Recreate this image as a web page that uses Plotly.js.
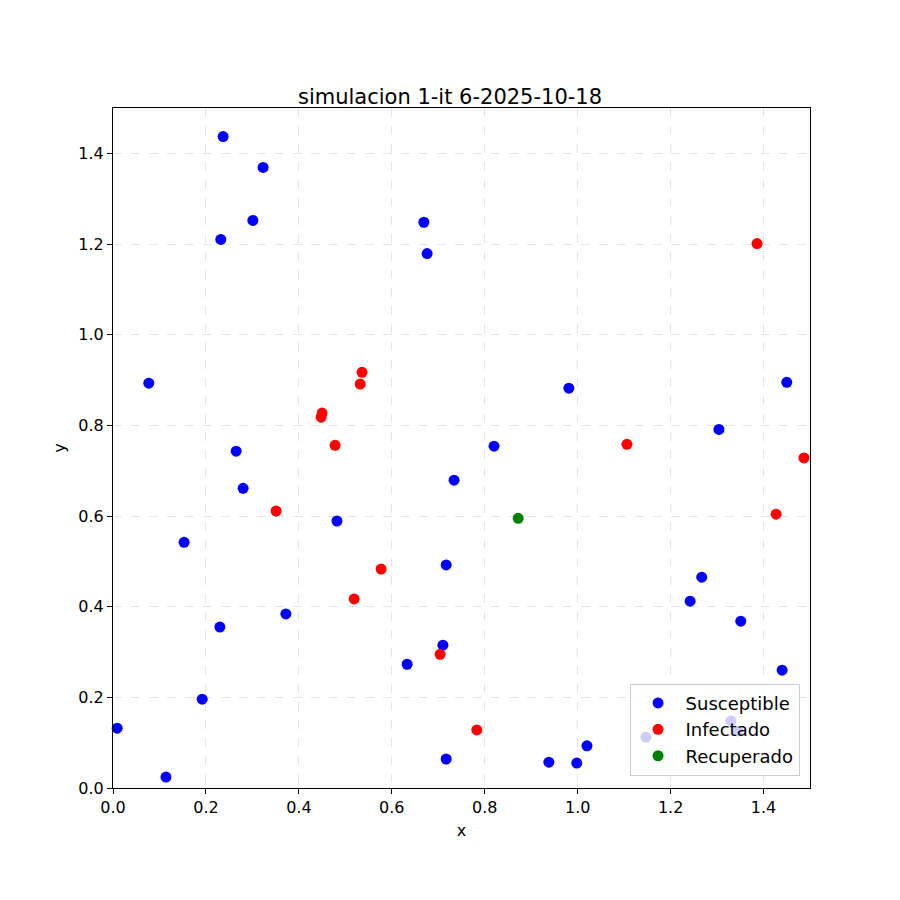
<!DOCTYPE html>
<html>
<head>
<meta charset="utf-8">
<script src="https://cdn.plot.ly/plotly-3.0.1.min.js"></script>
<style>body{margin:0;background:#fff}</style>
</head>
<body>
<div id="chart" style="width:900px;height:900px"></div>
<script>
// susceptible
var susX = [0.237, 0.323, 0.301, 0.232, 0.669, 0.676, 0.077, 0.981, 1.450, 0.265, 0.820, 1.304,
            0.280, 0.734, 0.482, 0.153, 0.717, 1.267, 1.242, 1.351, 0.372, 0.230, 0.710, 0.633,
            1.440, 0.192, 0.009, 0.114, 0.717, 0.938, 0.998, 1.020, 1.147, 1.330, 1.345];
var susY = [1.437, 1.369, 1.252, 1.210, 1.248, 1.179, 0.893, 0.882, 0.895, 0.743, 0.754, 0.791,
            0.661, 0.679, 0.589, 0.542, 0.492, 0.465, 0.412, 0.368, 0.384, 0.355, 0.315, 0.273,
            0.260, 0.196, 0.132, 0.024, 0.064, 0.057, 0.055, 0.093, 0.112, 0.148, 0.126];
// infected
var infX = [0.536, 0.532, 0.450, 0.448, 0.478, 0.351, 0.577, 0.519, 0.704, 0.783, 1.106, 1.386, 1.487, 1.427];
var infY = [0.917, 0.891, 0.827, 0.818, 0.756, 0.611, 0.483, 0.417, 0.295, 0.128, 0.758, 1.201, 0.728, 0.604];
// recovered
var recX = [0.872];
var recY = [0.595];

function trace(x, y, name, color) {
  return {x: x, y: y, name: name, type: 'scatter', mode: 'markers', cliponaxis: false,
          marker: {color: color, size: 11}};
}

var axis = {
  showgrid: true, gridcolor: 'rgba(0,0,0,0.1)', griddash: 'dash', zeroline: false,
  showline: true, mirror: true, linecolor: '#000', linewidth: 1,
  ticks: 'outside', ticklen: 5, tickcolor: '#000',
  tickfont: {size: 16, color: '#000'}, dtick: 0.2, tickformat: '.1f'
};

var layout = {
  width: 900, height: 900,
  paper_bgcolor: '#fff', plot_bgcolor: '#fff',
  font: {family: 'DejaVu Sans', color: '#000'},
  margin: {l: 113, r: 90, t: 108, b: 112},
  title: {text: 'simulacion 1-it 6-2025-10-18', font: {size: 21}, x: 0.5, xanchor: 'center', y: 0.885, yanchor: 'bottom'},
  xaxis: Object.assign({}, axis, {range: [0, 1.5], title: {text: 'x', font: {size: 16}, standoff: 8}}),
  yaxis: Object.assign({}, axis, {range: [0, 1.5], title: {text: 'y', font: {size: 16}, standoff: 8}}),
  showlegend: true,
  legend: {x: 0.985, y: 0.018, xanchor: 'right', yanchor: 'bottom',
           bgcolor: 'rgba(255,255,255,0.8)', bordercolor: '#ccc', borderwidth: 1,
           itemwidth: 45, font: {size: 18}}
};

Plotly.newPlot('chart', [
  trace(susX, susY, 'Susceptible', '#0000ff'),
  trace(infX, infY, 'Infectado', '#ff0000'),
  trace(recX, recY, 'Recuperado', '#008000')
], layout, {displayModeBar: false});
</script>
</body>
</html>
